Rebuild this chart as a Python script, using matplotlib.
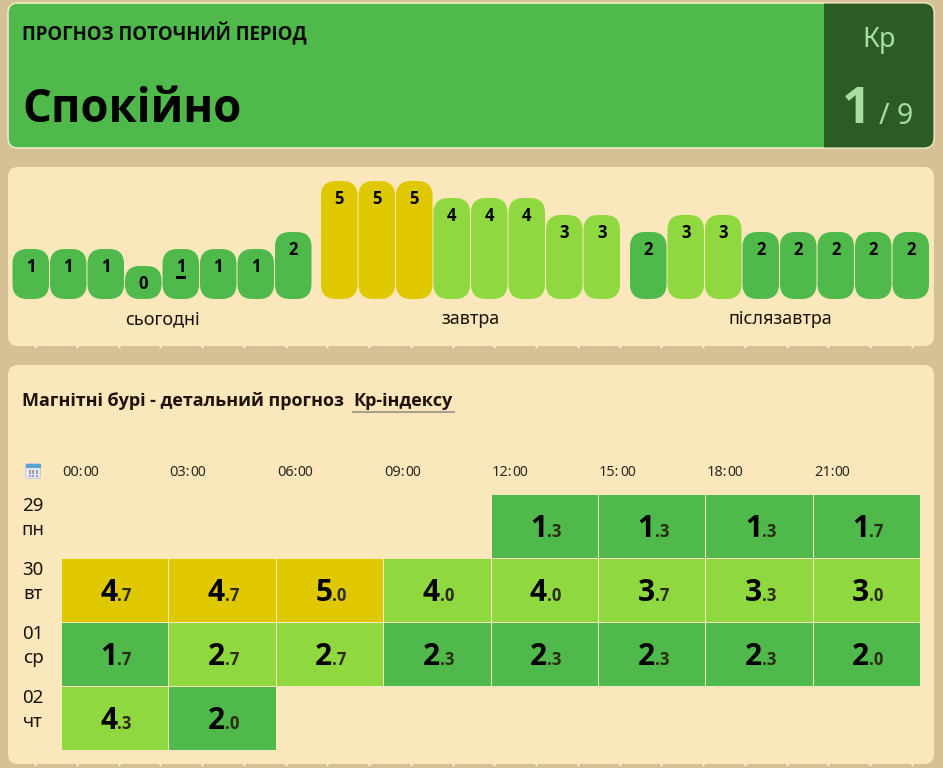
# coding: utf-8
import matplotlib
matplotlib.use('Agg')
import matplotlib.pyplot as plt
from matplotlib import font_manager
from matplotlib.patches import FancyBboxPatch, Rectangle

plt.rcParams['font.family'] = ['Noto Sans', 'DejaVu Sans']

# some installed families ship no separate bold file, look for one that does
bold_family = 'DejaVu Sans'
for name in ['Noto Sans', 'Open Sans', 'Lato', 'Roboto', 'Liberation Sans']:
    weights = [f.weight for f in font_manager.fontManager.ttflist if f.name == name]
    if any(w in (700, 'bold') for w in weights):
        bold_family = name
        break

# data
kp_now = 1
kp_max = 9
status_title = 'ПРОГНОЗ ПОТОЧНИЙ ПЕРІОД'
status_text = 'Спокійно'
group_names = ['сьогодні', 'завтра', 'післязавтра']
today_bars = [1, 1, 1, 0, 1, 1, 1, 2]
tomorrow_bars = [5, 5, 5, 4, 4, 4, 3, 3]
after_bars = [2, 3, 3, 2, 2, 2, 2, 2]
current_bar = 4
hours = ['00:00', '03:00', '06:00', '09:00', '12:00', '15:00', '18:00', '21:00']
day_nums = ['29', '30', '01', '02']
day_names = ['пн', 'вт', 'ср', 'чт']
kp_29 = [None, None, None, None, 1.3, 1.3, 1.3, 1.7]
kp_30 = [4.7, 4.7, 5.0, 4.0, 4.0, 3.7, 3.3, 3.0]
kp_01 = [1.7, 2.7, 2.7, 2.3, 2.3, 2.3, 2.3, 2.0]
kp_02 = [4.3, 2.0, None, None, None, None, None, None]

BG = '#d6c197'
CARD = '#fbe7bc'
GREEN = '#50b94b'
LIME = '#90d83f'
YELLOW = '#dfc800'
DARK = '#2a5c24'
PALE = '#a8dca0'


def kp_color(v):
    # rounded value decides the colour band
    v = round(v)
    if v <= 2:
        return GREEN
    if v <= 4:
        return LIME
    return YELLOW


def btext(x, y, s, size, color='black', ha='left', va='center', z=3):
    return ax.text(x, y, s, fontsize=size, family=[bold_family, 'DejaVu Sans'], fontweight='bold',
                   ha=ha, va=va, color=color, zorder=z)


fig = plt.figure(figsize=(9.43, 7.68), dpi=100, facecolor=BG)
ax = fig.add_axes([0, 0, 1, 1])
ax.set_xlim(0, 943)
ax.set_ylim(768, 0)
ax.axis('off')


def card(x0, y0, x1, y1, color, r=10, edge='none', lw=0, z=1):
    p = FancyBboxPatch((x0 + r, y0 + r), x1 - x0 - 2 * r, y1 - y0 - 2 * r,
                       boxstyle='round,pad={},rounding_size={}'.format(r, r),
                       fc=color, ec=edge, lw=lw, zorder=z)
    ax.add_patch(p)
    return p


# top banner
banner = card(8, 3, 934, 148, GREEN, edge='#f3eccb', lw=0.8)
dark = Rectangle((824, 3), 110, 145, fc=DARK, ec='none', zorder=1.5)
ax.add_patch(dark)
dark.set_clip_path(banner)
card(8, 3, 934, 148, 'none', edge='#f3eccb', lw=0.8, z=1.6)
btext(22, 33.5, status_title, 13.45, color='#0a0a0a')
btext(22, 110, status_text, 32.8)
ax.text(879, 40, 'Кр', fontsize=19.5, va='center', ha='center', color=PALE, zorder=3)
btext(871, 110, str(kp_now), 37, color=PALE, ha='right')
ax.text(879, 117, '/ ' + str(kp_max), fontsize=20.5, va='center', ha='left', color=PALE, zorder=3)

# cards
card(8, 167, 934, 346, CARD)
card(8, 365, 934, 764, CARD)
for bottom in [346, 764]:
    ax.scatter([35 + 41.75 * i for i in range(22)], [bottom + 0.5] * 22, marker='v', s=5,
               color='#fbf1d4', linewidths=0, zorder=0.9)

# bars per period
bar_groups = [today_bars, tomorrow_bars, after_bars]
group_x = [12.5, 321, 630]
group_lab_x = [162, 471, 780]
for g, vals in enumerate(bar_groups):
    for i, v in enumerate(vals):
        x0 = group_x[g] + 37.5 * i
        h = 33 + 17 * v
        top = 299 - h
        card(x0, top, x0 + 36.5, 299, kp_color(v), r=15, z=2)
        btext(x0 + 18.2, top + 18, str(v), 12, ha='center')
        if g == 0 and i == current_bar:
            ax.add_patch(Rectangle((x0 + 13, top + 27), 10, 2.5, fc='black', ec='none', zorder=3))
    ax.text(group_lab_x[g], 319, group_names[g], fontsize=13, ha='center', va='center',
            color='#1c1408', zorder=3)

# detailed forecast
btext(22, 401, 'Магнітні бурі - детальний прогноз', 13, color='#1f1207')
btext(353, 401, 'Кр-індексу', 13, color='#1f1207')
ax.plot([353, 454], [411.5, 411.5], color='#a8a08c', lw=1.5, zorder=3)

# calendar icon
ax.add_patch(FancyBboxPatch((26, 464), 14, 14, boxstyle='round,pad=0.5,rounding_size=1.5',
                            fc='#e4e6f2', ec='#c3c7d8', lw=0.6, zorder=3))
ax.add_patch(Rectangle((25.5, 463.5), 15, 4.5, fc='#5aa5cf', ec='none', zorder=3.1))
for cy in (470.5, 473, 475.5):
    ax.scatter([29.5, 33, 36.5], [cy] * 3, s=1.8, marker='s', color='#9a9fb5', linewidths=0, zorder=3.1)

cell_x = 62
cell_w = 107.4
cell_y = 495
cell_h = 64
for j, lab in enumerate(hours):
    hh, mm = lab.split(':')
    x = cell_x + cell_w * j
    ax.text(x, 472, hh + ':', fontsize=10.5, va='center', color='#2a2a20', zorder=3)
    ax.text(x + 21, 472, mm, fontsize=10, va='center', color='#2a2a20', zorder=3)

rows = [kp_29, kp_30, kp_01, kp_02]
for r, row in enumerate(rows):
    y = cell_y + cell_h * r
    ax.text(33, y + 11, day_nums[r], fontsize=13.5, ha='center', va='center', color='#1a1208', zorder=3)
    ax.text(33, y + 35, day_names[r], fontsize=13.5, ha='center', va='center', color='#1a1208', zorder=3)
    for j, v in enumerate(row):
        if v is None:
            continue
        x = cell_x + cell_w * j
        ax.add_patch(Rectangle((x, y), cell_w - 1, cell_h - 1.5, fc=kp_color(v), ec='none', zorder=2))
        whole, frac = '{:.1f}'.format(v).split('.')
        btext(x + 55.5, y + 34, whole, 21.5, ha='right')
        btext(x + 55.5, y + 37, '.' + frac, 12, color='#2b2b10')

fig.savefig('out.png', dpi=100, facecolor=BG)
